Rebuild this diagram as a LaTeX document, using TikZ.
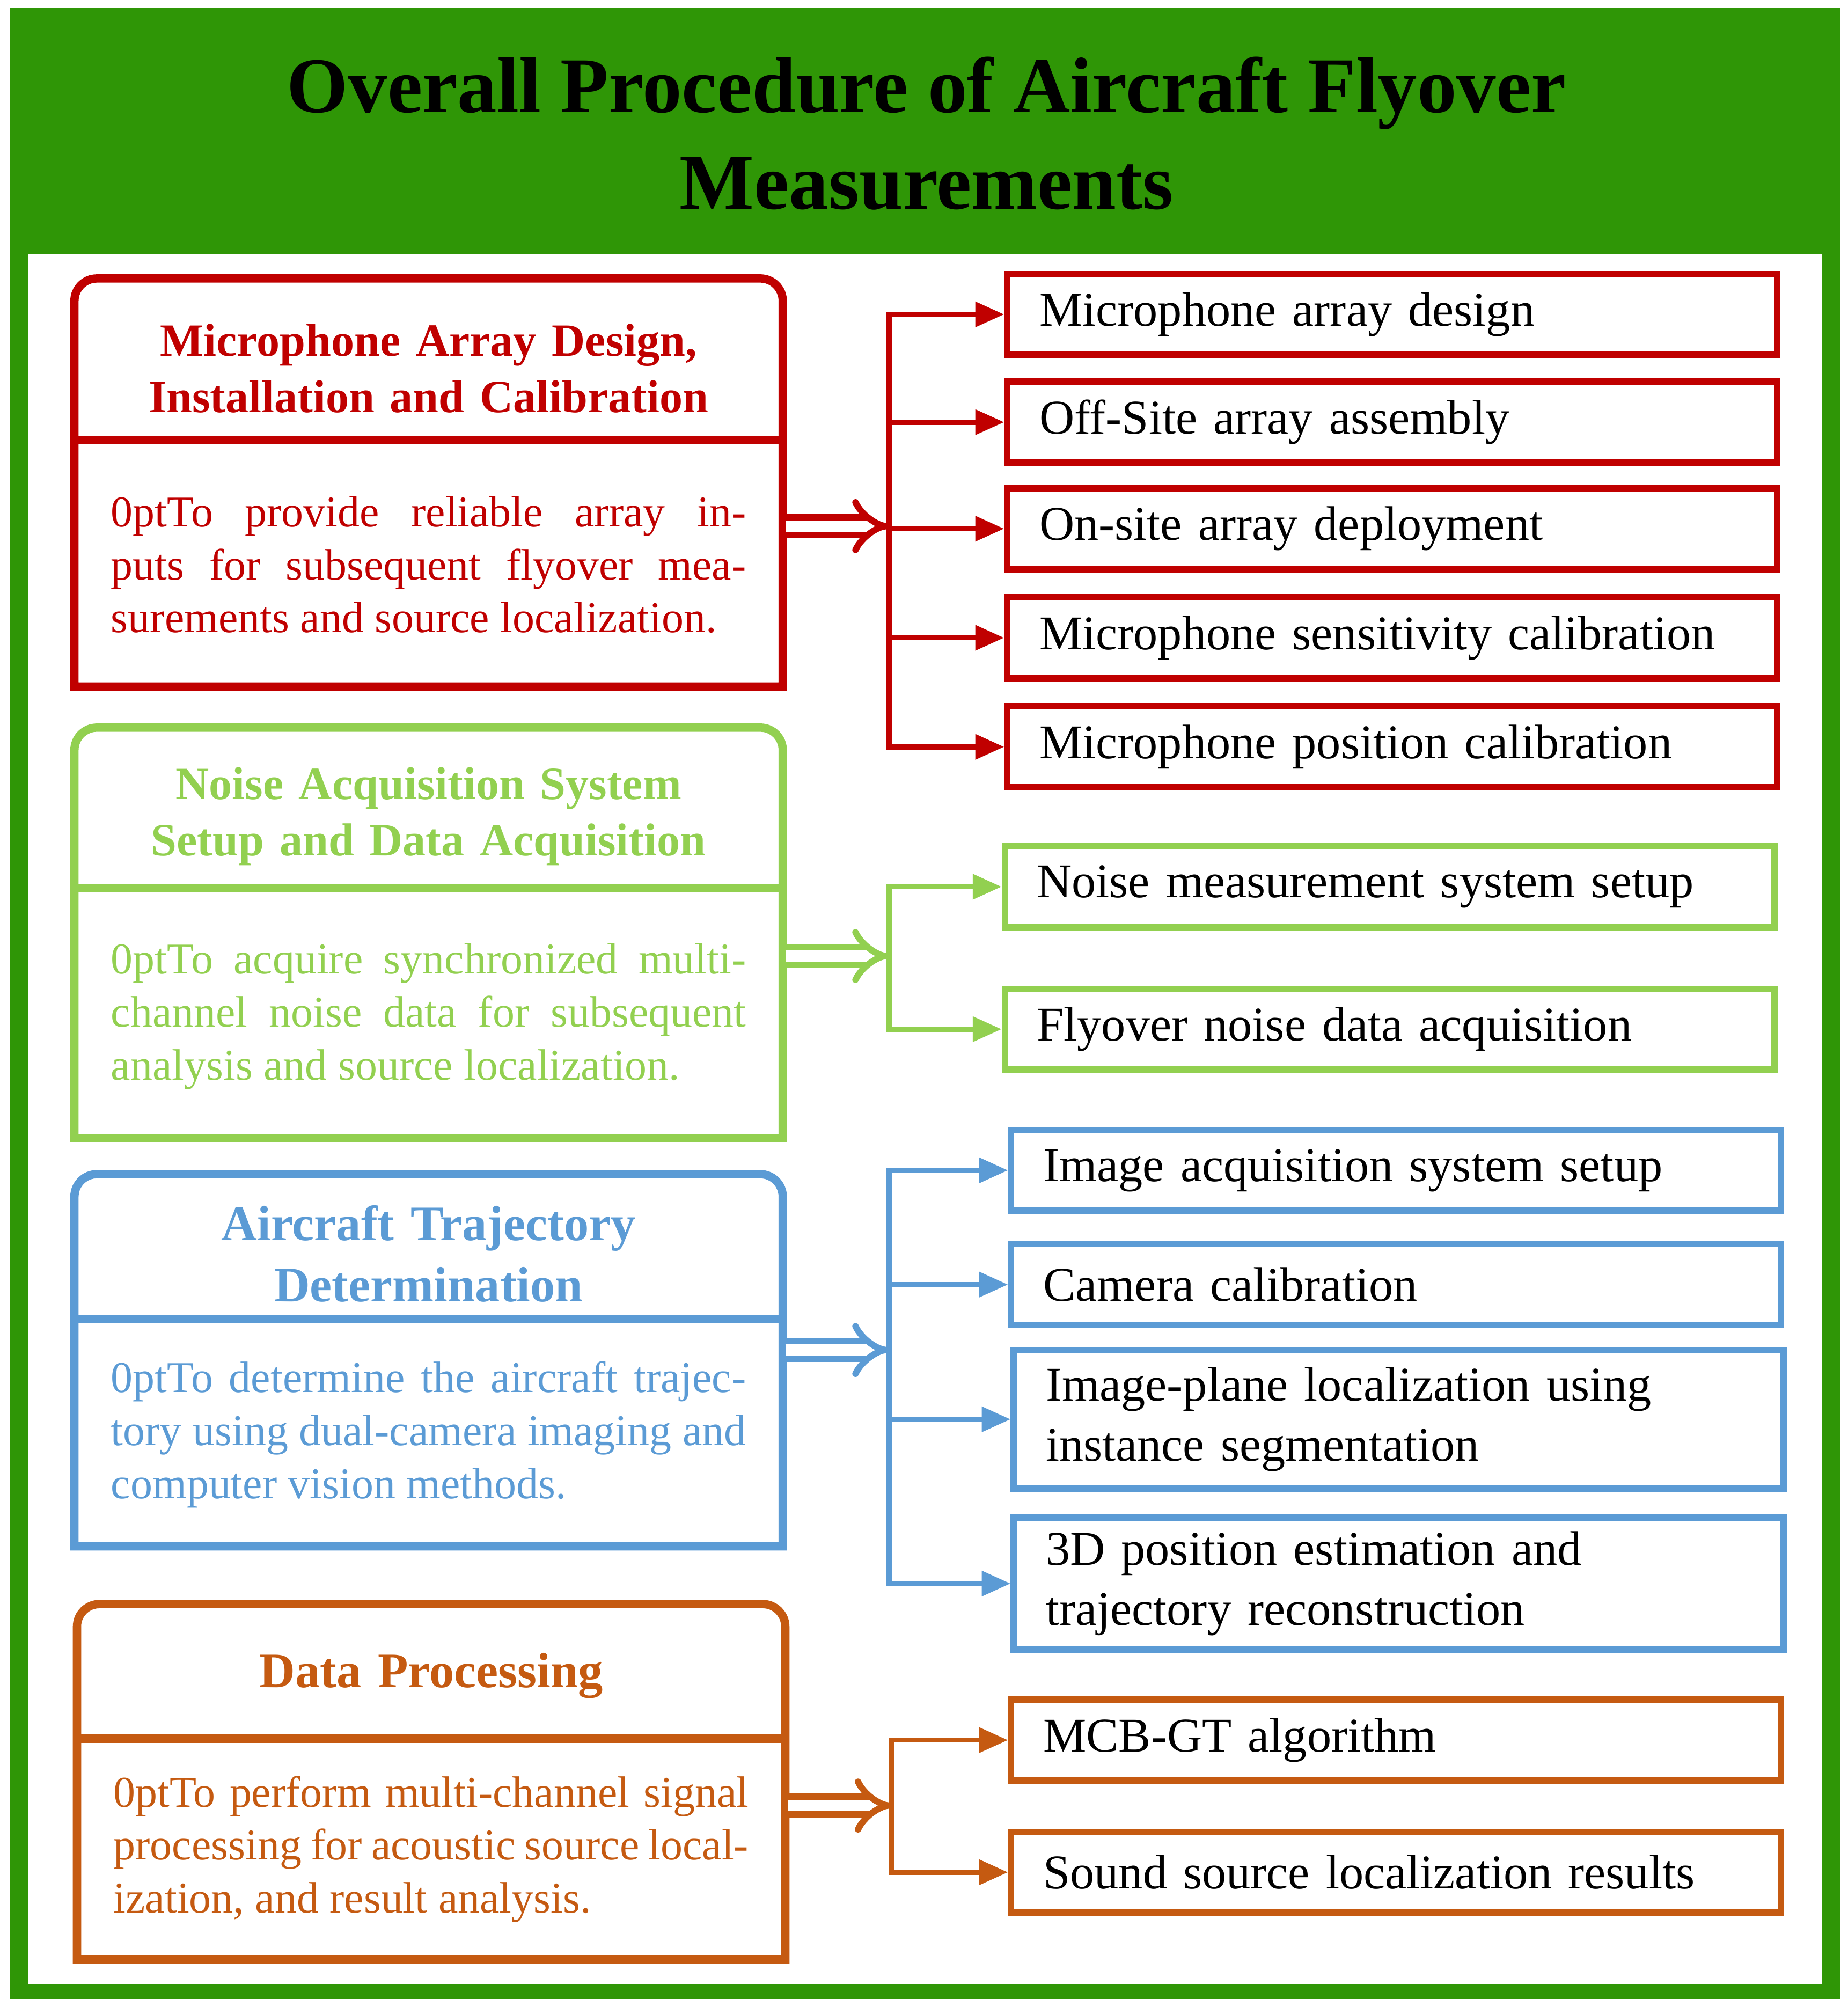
\documentclass[tikz,border=0pt]{standalone}
\usepackage{fontspec}
\setmainfont{Liberation Serif}
\usetikzlibrary{arrows.meta,positioning}
\definecolor{cgreen}{RGB}{47,150,6}
\definecolor{cred}{RGB}{192,0,0}
\definecolor{clime}{RGB}{146,208,80}
\definecolor{cblue}{RGB}{91,155,213}
\definecolor{corange}{RGB}{197,90,17}
\tikzset{
  hd/.style={font=\fontsize{20.5}{25}\selectfont\bfseries,align=center,text width=10.6cm},
  bd/.style={font=\fontsize{19.5}{23.5}\selectfont\hyphenpenalty=10000\exhyphenpenalty=10000,align=justify,text width=9.9cm,inner sep=0pt},
  itm/.style={draw,line width=0.1cm,minimum width=12cm,minimum height=1.26cm,font=\fontsize{21.5}{26.5}\selectfont,align=left,text width=11cm,inner xsep=0.5cm,inner ysep=0.1cm},
  br/.style={line width=0.08cm,-{Triangle[length=0.45cm,width=0.38cm]}},
  dbl/.style={double,double distance=0.18cm,line width=0.1cm,-{Implies[length=0.4cm]},shorten >=0pt},
  lbox/.style={line width=0.13cm}
}
\begin{document}
\begin{tikzpicture}[x=0.02cm,y=-0.02cm]
\useasboundingbox (0,0) rectangle (1440,1564);
% frame and title
\fill[cgreen] (8,6) rectangle (1434,1558);
\fill[white] (22,198) rectangle (1420,1546);
\node[font=\fontsize{35}{43}\selectfont\bfseries,align=center] (title) at (722,104) {Overall Procedure of Aircraft Flyover\\Measurements};

% ---- array design
\draw[lbox,cred] (58,535) -- (58,300) [rounded corners=0.35cm] -- (58,217) -- (610,217) -- (610,300) [sharp corners] -- (610,535) -- cycle;
\draw[cred,line width=0.13cm] (58,343) -- (610,343);
\node[hd,cred] (arr) at (334,287) {Microphone Array Design,\\Installation and Calibration};
\node[bd,cred] (arrb) at (334,440) {To provide reliable array inputs for subsequent flyover measurements and source localization.};
\node[itm,cred,text=black] (a1) at (1085,245) {Microphone array design};
\node[itm,cred,text=black] (a2) at (1085,329) {Off-Site array assembly};
\node[itm,cred,text=black] (a3) at (1085,412) {On-site array deployment};
\node[itm,cred,text=black] (a4) at (1085,497) {Microphone sensitivity calibration};
\node[itm,cred,text=black] (a5) at (1085,582) {Microphone position calibration};
\coordinate (aout) at (612,410);
\coordinate (atr) at (693,410);
\draw[dbl,cred] (aout) -- (atr);
\foreach \n in {a1,a2,a3,a4,a5}
  \draw[br,cred] (atr) |- (\n.west);

% ---- noise acquisition
\draw[lbox,clime] (58,887) -- (58,650) [rounded corners=0.35cm] -- (58,567) -- (610,567) -- (610,650) [sharp corners] -- (610,887) -- cycle;
\draw[clime,line width=0.13cm] (58,692) -- (610,692);
\node[hd,clime] (noi) at (334,636) {Noise Acquisition System\\Setup and Data Acquisition};
\node[bd,clime] (noib) at (334,792) {To acquire synchronized multi-channel noise data for subsequent analysis and source localization.};
\node[itm,clime,text=black] (n1) at (1083,691) {Noise measurement system setup};
\node[itm,clime,text=black] (n2) at (1083,802) {Flyover noise data acquisition};
\coordinate (nout) at (612,745);
\coordinate (ntr) at (693,745);
\draw[dbl,clime] (nout) -- (ntr);
\foreach \n in {n1,n2}
  \draw[br,clime] (ntr) |- (\n.west);

% ---- trajectory
\draw[lbox,cblue] (58,1205) -- (58,990) [rounded corners=0.35cm] -- (58,915) -- (610,915) -- (610,990) [sharp corners] -- (610,1205) -- cycle;
\draw[cblue,line width=0.13cm] (58,1028) -- (610,1028);
\node[hd,cblue,font=\fontsize{22}{27}\selectfont\bfseries] (trj) at (334,977) {Aircraft Trajectory\\Determination};
\node[bd,cblue] (trjb) at (334,1118) {To determine the aircraft trajectory using dual-camera imaging and computer vision methods.};
\node[itm,cblue,text=black] (t1) at (1088,912) {Image acquisition system setup};
\node[itm,cblue,text=black] (t2) at (1088,1001) {Camera calibration};
\node[itm,cblue,text=black,minimum height=2.16cm] (t3) at (1090,1106) {Image-plane localization using\\instance segmentation};
\node[itm,cblue,text=black,minimum height=2.06cm] (t4) at (1090,1234) {3D position estimation and\\trajectory reconstruction};
\coordinate (tout) at (612,1052);
\coordinate (ttr) at (693,1052);
\draw[dbl,cblue] (tout) -- (ttr);
\foreach \n in {t1,t2,t3,t4}
  \draw[br,cblue] (ttr) |- (\n.west);

% ---- data processing
\draw[lbox,corange] (60,1527) -- (60,1320) [rounded corners=0.35cm] -- (60,1250) -- (612,1250) -- (612,1320) [sharp corners] -- (612,1527) -- cycle;
\draw[corange,line width=0.13cm] (60,1355) -- (612,1355);
\node[hd,corange,font=\fontsize{22}{27}\selectfont\bfseries] (dp) at (336,1306) {Data Processing};
\node[bd,corange] (dpb) at (336,1441) {To perform multi-channel signal processing for acoustic source localization, and result analysis.};
\node[itm,corange,text=black] (d1) at (1088,1356) {MCB-GT algorithm};
\node[itm,corange,text=black] (d2) at (1088,1459) {Sound source localization results};
\coordinate (dout) at (614,1407);
\coordinate (dtr) at (695,1407);
\draw[dbl,corange] (dout) -- (dtr);
\foreach \n in {d1,d2}
  \draw[br,corange] (dtr) |- (\n.west);
\end{tikzpicture}
\end{document}
